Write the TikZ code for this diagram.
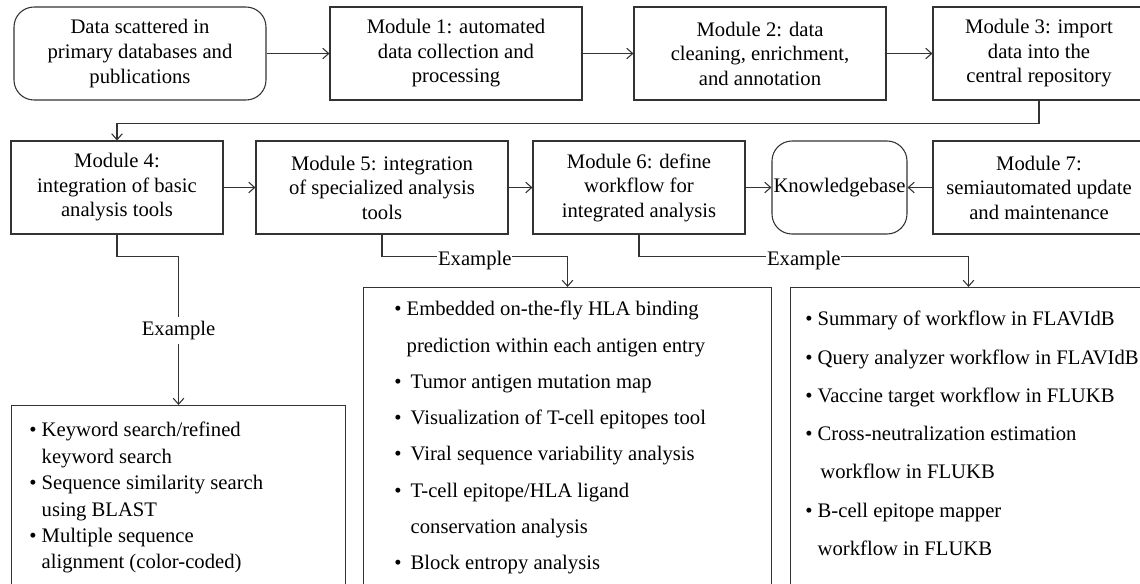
\documentclass[tikz,border=0pt]{standalone}
\usepackage{fontspec}
\setmainfont{Liberation Serif}
\usetikzlibrary{arrows.meta}
\newcommand\mybul{\textbullet\ }
\newcommand\myind{\hphantom{\textbullet\ }}
\begin{document}
\begin{tikzpicture}[x=0.75pt,y=-0.75pt,
  every node/.style={font=\fontsize{15.5}{18.4}\selectfont},
  modbox/.style={draw=black!80, line width=0.8pt, align=center, inner sep=0pt, minimum height=69.75pt},
  roundbox/.style={modbox, rounded corners=15pt},
  listbox/.style={draw=black!80, line width=0.8pt, inner sep=0pt, anchor=north west},
  listtext/.style={align=left, inner sep=0pt, anchor=north west},
  arr/.style={draw=black!80, line width=0.8pt, -{Straight Barb[length=4.5pt,width=8pt]}},
  lbl/.style={fill=white, inner xsep=0.5pt, inner ysep=3pt}
]
\useasboundingbox (0,0) rectangle (1140,583);
\clip (0,0) rectangle (1140,583);

% Row 1
\node[roundbox, minimum width=189pt] (data) at (140,53.5) {Data scattered in\\primary databases and\\publications};
\node[modbox, minimum width=189pt] (m1) at (456,53.5) {Module 1: automated\\data collection and\\processing};
\node[modbox, minimum width=189pt] (m2) at (760,53.5) {Module 2: data\\cleaning, enrichment,\\and annotation};
\node[modbox, minimum width=159pt] (m3) at (1039,53.5) {Module 3: import\\data into the\\central repository};

% Row 2
\node[modbox, minimum width=159pt] (m4) at (117,187.5) {Module 4:\\integration of basic\\analysis tools};
\node[modbox, minimum width=189pt] (m5) at (382,187.5) {Module 5: integration\\of specialized analysis\\tools};
\node[modbox, minimum width=159pt] (m6) at (639,187.5) {Module 6: define\\workflow for\\integrated analysis};
\node[roundbox, minimum width=101.25pt] (kb) at (839.5,187.5) {Knowledgebase};
\node[modbox, minimum width=159pt] (m7) at (1039,187.5) {Module 7:\\semiautomated update\\and maintenance};

% Example boxes
\node[listbox, minimum width=250.5pt, minimum height=146.25pt] (ex4) at (11,405) {};
\node[listbox, minimum width=306pt, minimum height=240pt] (ex5) at (363,287) {};
\node[listbox, minimum width=267pt, minimum height=240pt] (ex6) at (790,287) {};

\node[listtext, font=\fontsize{15.5}{19.8}\selectfont] (t4) at ([xshift=13.5pt,yshift=-12.75pt]ex4.north west)
 {\mybul Keyword search/refined\\
  \myind keyword search\\
  \mybul Sequence similarity search\\
  \myind using BLAST\\
  \mybul Multiple sequence\\
  \myind alignment (color-coded)};

\node[listtext, font=\fontsize{15.5}{27.2}\selectfont] (t5) at ([xshift=23.25pt,yshift=-10.5pt]ex5.north west)
 {\mybul Embedded on-the-fly HLA binding\\
  \myind prediction within each antigen entry\\
  \mybul\hspace{3pt}Tumor antigen mutation map\\
  \mybul\hspace{3pt}Visualization of T-cell epitopes tool\\
  \mybul\hspace{3pt}Viral sequence variability analysis\\
  \mybul\hspace{3pt}T-cell epitope/HLA ligand\\
  \myind\hspace{3pt}conservation analysis\\
  \mybul\hspace{3pt}Block entropy analysis};

\node[listtext, font=\fontsize{15.5}{28.7}\selectfont] (t6) at ([xshift=11.25pt,yshift=-18pt]ex6.north west)
 {\mybul Summary of workflow in FLAVIdB\\
  \mybul Query analyzer workflow in FLAVIdB\\
  \mybul Vaccine target workflow in FLUKB\\
  \mybul Cross-neutralization estimation\\
  \myind\hspace{2pt}workflow in FLUKB\\
  \mybul B-cell epitope mapper\\
  \myind workflow in FLUKB};

% Connectors
\draw[arr] (data.east) -- (m1.west);
\draw[arr] (m1.east) -- (m2.west);
\draw[arr] (m2.east) -- (m3.west);
\draw[arr] (m3.south) -- ++(0,23) -| (m4.north);
\draw[arr] (m4.east) -- (m5.west);
\draw[arr] (m5.east) -- (m6.west);
\draw[arr] (m6.east) -- (kb.west);
\draw[arr] (m7.west) -- (kb.east);
\draw[arr] (m4.south) -- ++(0,22) -| node[lbl, pos=0.75] (e4) {Example} (ex4.north);
\draw[arr] (m5.south) -- ++(0,22) -| node[lbl, pos=0.25, yshift=-3pt] (e5) {Example} (ex5.north);
\draw[arr] (m6.south) -- ++(0,22) -| node[lbl, pos=0.25, yshift=-3pt] (e6) {Example} (ex6.north);
\end{tikzpicture}
\end{document}
